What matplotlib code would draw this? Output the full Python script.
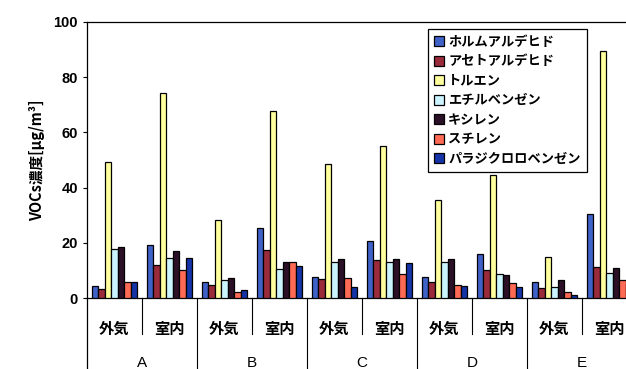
import numpy as np
import matplotlib
matplotlib.use("Agg")
import matplotlib.pyplot as plt
import matplotlib.transforms as mtransforms

plt.rcParams['font.family'] = ['Noto Sans CJK JP', 'DejaVu Sans']

sites = ['A', 'B', 'C', 'D', 'E']
places = ['外気', '室内']
compounds = ['ホルムアルデヒド', 'アセトアルデヒド', 'トルエン', 'エチルベンゼン',
             'キシレン', 'スチレン', 'パラジクロロベンゼン']

# values per compound, order: A外気, A室内, B外気, B室内, ... E室内
formaldehyde = [4.5, 19.4, 5.8, 25.5, 7.8, 20.5, 7.5, 16.0, 5.9, 30.5]
acetaldehyde = [3.4, 12.1, 4.9, 17.5, 7.1, 13.8, 6.0, 10.3, 3.6, 11.1]
toluene      = [49.1, 74.3, 28.2, 67.7, 48.7, 55.2, 35.5, 44.6, 15.0, 89.5]
ethylbenzene = [17.9, 14.5, 6.6, 10.4, 13.0, 13.0, 13.0, 8.7, 4.1, 9.0]
xylene       = [18.6, 16.9, 7.4, 13.0, 14.1, 14.1, 14.1, 8.2, 6.4, 10.9]
styrene      = [6.0, 10.3, 2.4, 13.0, 7.4, 8.7, 4.9, 5.4, 2.1, 6.4]
pdcb         = [6.0, 14.5, 3.0, 11.8, 4.0, 12.7, 4.5, 4.1, 1.0, 5.0]

series = [formaldehyde, acetaldehyde, toluene, ethylbenzene, xylene, styrene, pdcb]
colors = ['#3f62c8', '#992b3b', '#ffff9e', '#ccf4ff', '#2b1028', '#ff6a55', '#1534a8']

fig = plt.figure(figsize=(6.26, 3.69), dpi=100)
ax = fig.add_axes([0.139, 0.192, 0.861, 0.749])

x = np.arange(len(formaldehyde))
w = 0.117
for i, (vals, col) in enumerate(zip(series, colors)):
    ax.bar(x + (i - 3) * w, vals, width=w, color=col, edgecolor='black',
           linewidth=0.9, label=compounds[i], zorder=3)

ax.set_xlim(-0.5, 9.3)
ax.set_ylim(0, 100)
ax.set_yticks([0, 20, 40, 60, 80, 100])
ax.tick_params(axis='y', labelsize=10.5, length=3, width=0.8)
for t in ax.get_yticklabels():
    t.set_fontweight('bold')
    t.set_family(['Liberation Sans', 'DejaVu Sans'])
ax.set_xticks([])
ax.spines['right'].set_visible(False)
for s in ['left', 'bottom', 'top']:
    ax.spines[s].set_linewidth(0.9)

ax.set_ylabel('VOCs濃度[μg/m³]', fontsize=10.5, fontweight='bold', labelpad=6)

trans = mtransforms.blended_transform_factory(ax.transData, ax.transAxes)
for k in range(len(x)):
    ax.text(k, -0.11, places[k % 2], transform=trans, ha='center', va='center',
            fontsize=11, fontweight='bold')
for j, s in enumerate(sites):
    ax.text(2 * j + 0.5, -0.235, s, transform=trans, ha='center', va='center',
            fontsize=11, family=['Liberation Sans', 'DejaVu Sans'])
# separators below axis
for k in range(len(x)):
    xb = k + 0.5
    if xb > 9.3:
        continue
    if k % 2 == 0:
        ax.plot([xb, xb], [0, -0.13], transform=trans, color='black', lw=0.8, clip_on=False)
    else:
        ax.plot([xb, xb], [0, -0.30], transform=trans, color='black', lw=0.8, clip_on=False)
ax.plot([-0.5, -0.5], [0, -0.30], transform=trans, color='black', lw=0.9, clip_on=False)

leg = ax.legend(loc='upper left', bbox_to_anchor=(0.632, 0.975), borderaxespad=0,
                fontsize=9.5, frameon=True, fancybox=False, edgecolor='black',
                framealpha=1, handlelength=0.8, handleheight=0.8, handletextpad=0.3,
                labelspacing=0.42, borderpad=0.45)
leg.get_frame().set_linewidth(0.9)
for t in leg.get_texts():
    t.set_fontweight('bold')

fig.savefig('out.png', dpi=100)
